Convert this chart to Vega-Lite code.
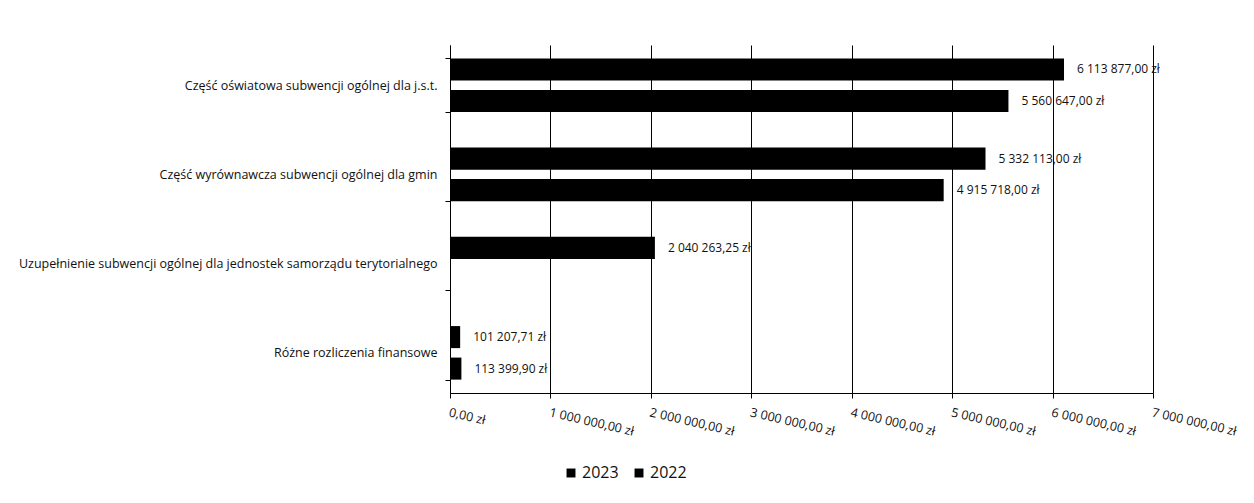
{
  "$schema": "https://vega.github.io/schema/vega-lite/v6.json",
  "width": 703,
  "height": 348,
  "autosize": {"type": "none"},
  "padding": {"left": 450, "top": 45, "right": 101, "bottom": 110},
  "background": "white",
  "config": {
    "locale": {"number": {"decimal": ",", "thousands": " ", "grouping": [3], "currency": ["", " zł"]}},
    "font": "Open Sans",
    "view": {"stroke": null}
  },
  "data": {
    "values": [
      {"kategoria": "Część oświatowa subwencji ogólnej dla j.s.t.", "rok": "2023", "kwota": 6113877.00},
      {"kategoria": "Część oświatowa subwencji ogólnej dla j.s.t.", "rok": "2022", "kwota": 5560647.00},
      {"kategoria": "Część wyrównawcza subwencji ogólnej dla gmin", "rok": "2023", "kwota": 5332113.00},
      {"kategoria": "Część wyrównawcza subwencji ogólnej dla gmin", "rok": "2022", "kwota": 4915718.00},
      {"kategoria": "Uzupełnienie subwencji ogólnej dla jednostek samorządu terytorialnego", "rok": "2023", "kwota": 2040263.25},
      {"kategoria": "Różne rozliczenia finansowe", "rok": "2023", "kwota": 101207.71},
      {"kategoria": "Różne rozliczenia finansowe", "rok": "2022", "kwota": 113399.90}
    ]
  },
  "encoding": {
    "y": {
      "field": "kategoria",
      "type": "nominal",
      "sort": [
        "Część oświatowa subwencji ogólnej dla j.s.t.",
        "Część wyrównawcza subwencji ogólnej dla gmin",
        "Uzupełnienie subwencji ogólnej dla jednostek samorządu terytorialnego",
        "Różne rozliczenia finansowe"
      ],
      "scale": {"paddingInner": 0.4, "paddingOuter": 0.15},
      "axis": {
        "title": null,
        "labelFontSize": 12.5,
        "labelColor": "#111",
        "labelLimit": 600,
        "labelPadding": 8,
        "tickBand": "extent",
        "tickSize": 5,
        "tickColor": "#000",
        "domainColor": "#000"
      }
    },
    "yOffset": {
      "field": "rok",
      "type": "nominal",
      "sort": ["2023", "2022"],
      "scale": {"paddingInner": 0.3, "paddingOuter": 0}
    }
  },
  "layer": [
    {
      "mark": {"type": "bar"},
      "encoding": {
        "x": {
          "field": "kwota",
          "type": "quantitative",
          "scale": {"domain": [0, 7000000], "nice": false},
          "axis": {
            "title": null,
            "values": [0, 1000000, 2000000, 3000000, 4000000, 5000000, 6000000, 7000000],
            "format": "$,.2f",
            "grid": true,
            "gridColor": "#000",
            "gridWidth": 1,
            "domainColor": "#000",
            "tickColor": "#000",
            "tickSize": 5,
            "labelAngle": 13,
            "labelAlign": "left",
            "labelBaseline": "top",
            "labelFlush": false,
            "labelOverlap": false,
            "labelPadding": 8,
            "labelFontSize": 12.5,
            "labelColor": "#111"
          }
        },
        "color": {
          "field": "rok",
          "type": "nominal",
          "scale": {"domain": ["2023", "2022"], "range": ["#000000", "#000000"]},
          "legend": {
            "title": null,
            "orient": "none",
            "legendX": 113,
            "legendY": 420,
            "direction": "horizontal",
            "symbolType": "square",
            "symbolSize": 80,
            "labelFontSize": 16,
            "labelOffset": 3,
            "labelColor": "#111",
            "columnPadding": 12
          }
        }
      }
    },
    {
      "mark": {"type": "text", "align": "left", "baseline": "middle", "dx": 13, "fontSize": 12, "color": "#111"},
      "encoding": {
        "x": {"field": "kwota", "type": "quantitative"},
        "text": {"field": "kwota", "type": "quantitative", "format": "$,.2f"}
      }
    }
  ]
}
